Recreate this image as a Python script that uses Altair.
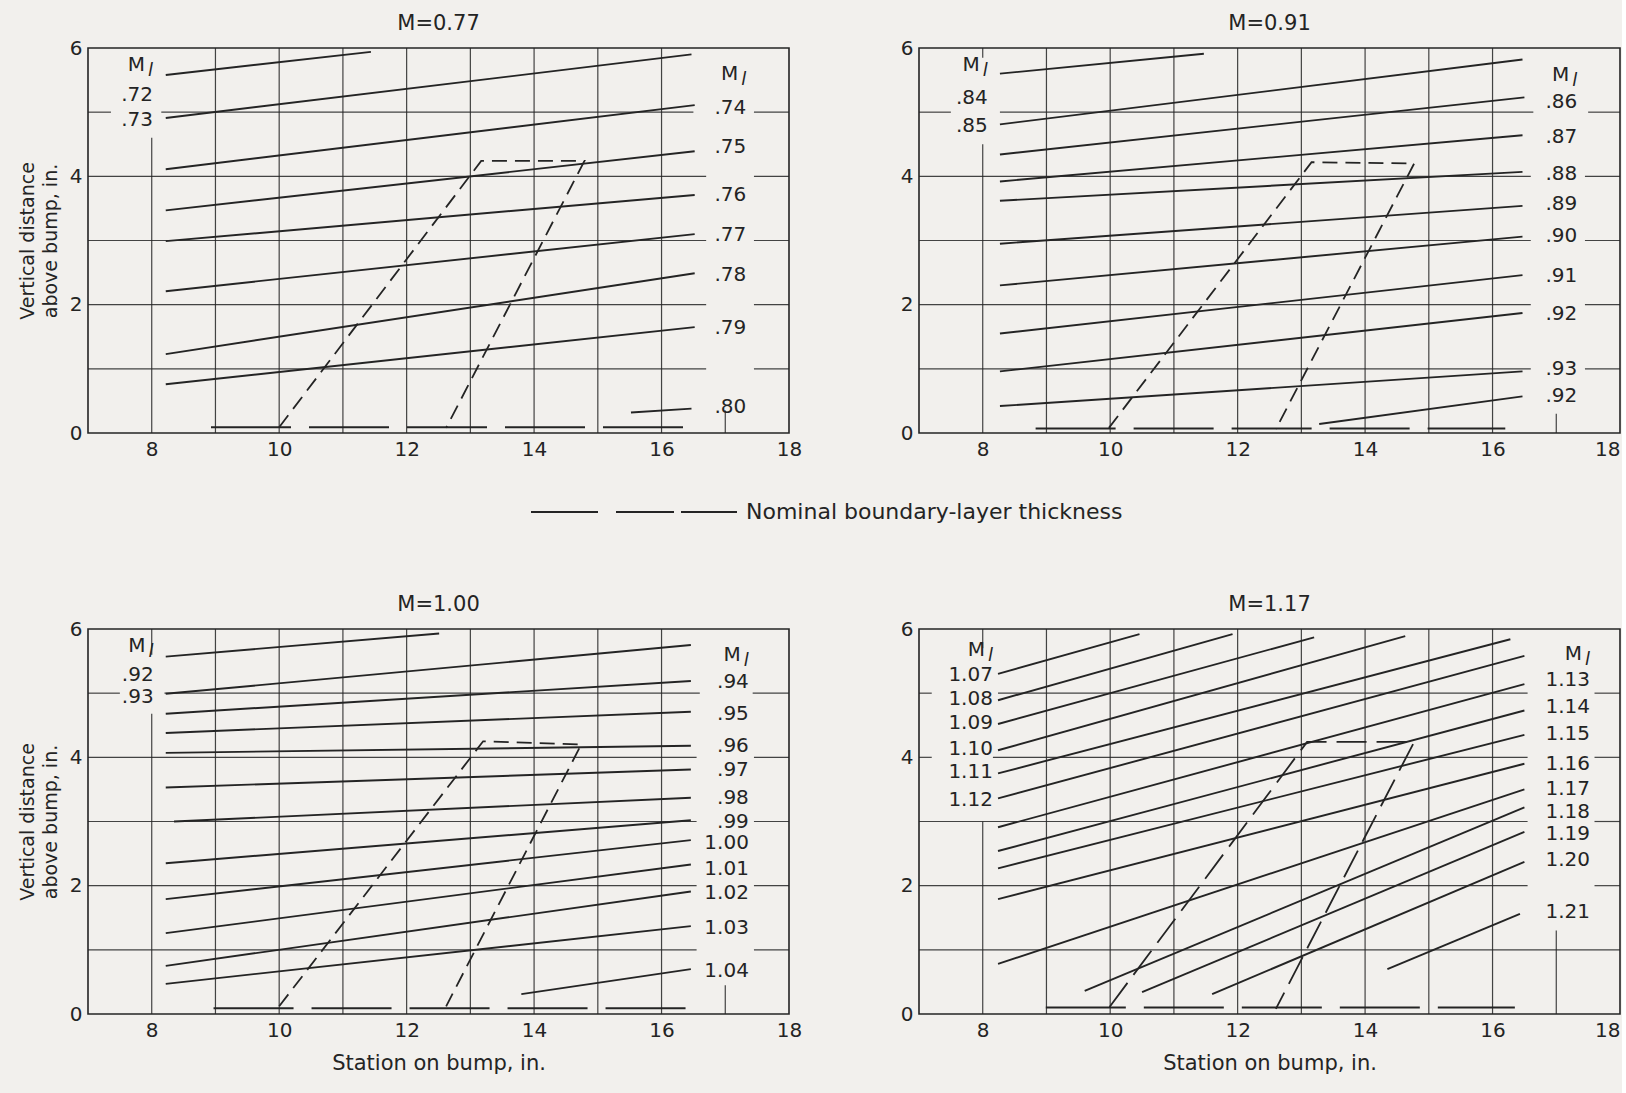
import altair as alt
import pandas as pd

FONT = "DejaVu Sans"
INK = "#242424"
PAPER = "#f2f0ed"
ML = "Ml"  # local Mach number header (M with subscript l)

TITLES = ["M=0.77", "M=0.91", "M=1.00", "M=1.17"]
XTICKS = [8, 10, 12, 14, 16, 18]
YTICKS = [0, 2, 4, 6]
X_TITLE = "Station on bump, in."
Y_TITLE = ["Vertical distance", "above bump, in."]
LEGEND_TEXT = "Nominal boundary-layer thickness"

# ---- local-Mach-number lines: start x, start y, end x, end y ----
P1_X0 = [8.22, 8.22, 8.22, 8.22, 8.22, 8.22, 8.22, 8.22, 15.52]
P1_Y0 = [5.58, 4.91, 4.11, 3.47, 2.99, 2.21, 1.23, 0.76, 0.32]
P1_X1 = [11.44, 16.47, 16.52, 16.52, 16.52, 16.52, 16.52, 16.52, 16.47]
P1_Y1 = [5.94, 5.90, 5.11, 4.39, 3.71, 3.10, 2.49, 1.65, 0.38]

P2_X0 = [8.27, 8.27, 8.27, 8.27, 8.27, 8.27, 8.27, 8.27, 8.27, 8.27, 13.28]
P2_Y0 = [5.60, 4.81, 4.34, 3.92, 3.62, 2.95, 2.30, 1.55, 0.96, 0.42, 0.14]
P2_X1 = [11.47, 16.47, 16.50, 16.47, 16.47, 16.47, 16.47, 16.47, 16.47, 16.47, 16.47]
P2_Y1 = [5.91, 5.82, 5.23, 4.64, 4.07, 3.54, 3.06, 2.46, 1.87, 0.96, 0.57]

P3_X0 = [8.22, 8.22, 8.22, 8.22, 8.22, 8.22, 8.35, 8.22, 8.22, 8.22, 8.22, 8.22, 13.80]
P3_Y0 = [5.57, 4.99, 4.68, 4.38, 4.07, 3.53, 3.00, 2.35, 1.79, 1.26, 0.75, 0.47, 0.31]
P3_X1 = [12.51, 16.46, 16.46, 16.46, 16.46, 16.46, 16.46, 16.46, 16.46, 16.46, 16.46, 16.46, 16.46]
P3_Y1 = [5.93, 5.75, 5.19, 4.71, 4.18, 3.81, 3.37, 3.02, 2.71, 2.33, 1.91, 1.37, 0.70]

P4_X0 = [8.24, 8.24, 8.24, 8.24, 8.24, 8.24, 8.24, 8.24, 8.24, 8.24, 8.24, 9.60, 10.50, 11.60, 14.35]
P4_Y0 = [5.30, 4.89, 4.52, 4.11, 3.75, 3.36, 2.91, 2.54, 2.27, 1.79, 0.78, 0.36, 0.34, 0.31, 0.70]
P4_X1 = [10.46, 11.92, 13.20, 14.63, 16.28, 16.50, 16.50, 16.50, 16.50, 16.50, 16.50, 16.50, 16.50, 16.50, 16.43]
P4_Y1 = [5.92, 5.92, 5.87, 5.89, 5.84, 5.58, 5.14, 4.73, 4.35, 3.90, 3.50, 3.22, 2.84, 2.37, 1.56]

# ---- line labels ----
P1_LEFT = [ML, ".72", ".73"]
P1_LEFT_Y = [5.73, 5.26, 4.88]
P1_RIGHT = [ML, ".74", ".75", ".76", ".77", ".78", ".79", ".80"]
P1_RIGHT_Y = [5.60, 5.06, 4.45, 3.71, 3.08, 2.46, 1.63, 0.41]

P2_LEFT = [ML, ".84", ".85"]
P2_LEFT_Y = [5.74, 5.22, 4.78]
P2_RIGHT = [ML, ".86", ".87", ".88", ".89", ".90", ".91", ".92", ".93", ".92"]
P2_RIGHT_Y = [5.58, 5.16, 4.62, 4.04, 3.57, 3.07, 2.45, 1.85, 0.99, 0.57]

P3_LEFT = [ML, ".92", ".93"]
P3_LEFT_Y = [5.74, 5.29, 4.94]
P3_RIGHT = [ML, ".94", ".95", ".96", ".97", ".98", ".99", "1.00", "1.01", "1.02", "1.03", "1.04"]
P3_RIGHT_Y = [5.60, 5.18, 4.68, 4.17, 3.81, 3.36, 3.00, 2.66, 2.26, 1.88, 1.34, 0.67]

P4_LEFT = [ML, "1.07", "1.08", "1.09", "1.10", "1.11", "1.12"]
P4_LEFT_Y = [5.67, 5.28, 4.91, 4.53, 4.13, 3.77, 3.33]
P4_RIGHT = [ML, "1.13", "1.14", "1.15", "1.16", "1.17", "1.18", "1.19", "1.20", "1.21"]
P4_RIGHT_Y = [5.61, 5.20, 4.78, 4.36, 3.89, 3.50, 3.15, 2.81, 2.40, 1.59]

LEFT_LABEL_X = [8.02, 8.08, 8.03, 8.16]
RIGHT_LABEL_X = [17.33, 17.33, 17.37, 17.53]

# ---- survey region (dashed parallelogram) ----
Q_X = [[10.0, 13.17, 14.79, 12.62], [9.98, 13.16, 14.77, 12.60],
       [10.0, 13.20, 14.74, 12.62], [9.99, 13.09, 14.77, 12.60]]
Q_Y = [[0.09, 4.24, 4.24, 0.08], [0.08, 4.22, 4.20, 0.06],
       [0.12, 4.25, 4.20, 0.12], [0.11, 4.24, 4.24, 0.08]]

# ---- nominal boundary-layer thickness ----
BL_X0 = [8.93, 8.83, 8.97, 8.99]
BL_X1 = [16.50, 16.20, 16.50, 16.35]
BL_Y = [0.09, 0.07, 0.09, 0.10]

# ---- grid (interrupted where the labels sit) ----
VGRID_FULL = [9, 10, 11, 12, 13, 14, 15, 16]
V8_TOP = [4.60, 4.50, 4.68, 3.00]
V8_STUB = [6.0, 5.85, 5.60, 5.70]
V17_TOP = [0.35, 0.30, 0.45, 1.30]
H_SEGS = [
    [(1, 7, 16.7), (1, 17.45, 18), (2, 7, 16.7), (2, 17.45, 18), (3, 7, 16.7), (3, 17.45, 18),
     (4, 7, 16.7), (4, 17.45, 18), (5, 7, 7.36), (5, 8.15, 16.5), (5, 17.45, 18)],
    [(1, 7, 16.6), (1, 17.45, 18), (2, 7, 16.6), (2, 17.45, 18), (3, 7, 16.6), (3, 17.45, 18),
     (4, 7, 16.6), (4, 17.45, 18), (5, 7, 7.5), (5, 8.27, 16.64), (5, 17.5, 18)],
    [(1, 7, 16.55), (1, 17.45, 18), (2, 7, 16.55), (2, 17.45, 18), (3, 7, 16.55), (3, 17.45, 18),
     (4, 7, 16.55), (4, 17.45, 18), (5, 7, 7.5), (5, 8.2, 16.6), (5, 17.43, 18)],
    [(1, 7, 18), (2, 7, 16.55), (2, 17.6, 18), (3, 7, 16.55), (3, 17.6, 18),
     (4, 7, 7.2), (4, 8.16, 16.55), (4, 17.6, 18), (5, 7, 7.2), (5, 8.24, 16.55), (5, 17.6, 18)],
]

LINES = [(P1_X0, P1_Y0, P1_X1, P1_Y1), (P2_X0, P2_Y0, P2_X1, P2_Y1),
         (P3_X0, P3_Y0, P3_X1, P3_Y1), (P4_X0, P4_Y0, P4_X1, P4_Y1)]
LEFTS = [(P1_LEFT, P1_LEFT_Y), (P2_LEFT, P2_LEFT_Y), (P3_LEFT, P3_LEFT_Y), (P4_LEFT, P4_LEFT_Y)]
RIGHTS = [(P1_RIGHT, P1_RIGHT_Y), (P2_RIGHT, P2_RIGHT_Y), (P3_RIGHT, P3_RIGHT_Y), (P4_RIGHT, P4_RIGHT_Y)]

PW, PH = 701, 385


def panel(i, show_xtitle, show_ytitle, flush, extra=None):
    xs = alt.Scale(domain=[7, 18], nice=False, zero=False)
    ys = alt.Scale(domain=[0, 6], nice=False, zero=False)
    xa = alt.Axis(values=XTICKS, title=X_TITLE if show_xtitle else None, grid=False,
                  domain=False, ticks=False, labelFlush=flush, labelFontSize=20,
                  labelPadding=6, labelColor=INK, labelFont=FONT, titleFont=FONT,
                  titleFontSize=21, titleFontWeight="normal", titleColor=INK, titlePadding=12)
    ya = alt.Axis(values=YTICKS, title=Y_TITLE if show_ytitle else None, grid=False,
                  domain=False, ticks=False, labelFontSize=20, labelPadding=6,
                  labelColor=INK, labelFont=FONT, titleFont=FONT, titleFontSize=19,
                  titleFontWeight="normal", titleColor=INK, titlePadding=9,
                  titleLineHeight=23)

    def X(f):
        return alt.X(f, scale=xs, axis=xa)

    def Y(f):
        return alt.Y(f, scale=ys, axis=ya)

    x0, y0, x1, y1 = LINES[i]
    mach = pd.DataFrame({"x0": x0, "y0": y0, "x1": x1, "y1": y1})

    vrows = [(v, 0, 6) for v in VGRID_FULL]
    vrows += [(8, 0, V8_TOP[i]), (8, V8_STUB[i], 6), (17, 0, V17_TOP[i])]
    vgrid = pd.DataFrame(vrows, columns=["x", "y0", "y1"])
    hgrid = pd.DataFrame(H_SEGS[i], columns=["y", "x0", "x1"])

    lt, ly = LEFTS[i]
    rt, ry = RIGHTS[i]
    lab = pd.concat([
        pd.DataFrame({"t": lt, "y": ly, "x": [LEFT_LABEL_X[i]] * len(lt)}),
        pd.DataFrame({"t": rt, "y": ry, "x": [RIGHT_LABEL_X[i]] * len(rt)}),
    ], ignore_index=True)
    nums = lab[lab["t"] != ML]
    heads = lab[lab["t"] == ML]

    quad = pd.DataFrame({"x": Q_X[i], "y": Q_Y[i], "o": [0, 1, 2, 3]})
    bl = pd.DataFrame({"x0": [BL_X0[i]], "x1": [BL_X1[i]], "y": [BL_Y[i]]})

    g_h = alt.Chart(hgrid).mark_rule(color=INK, strokeWidth=1.2, opacity=0.85).encode(
        x=X("x0:Q"), x2="x1:Q", y=Y("y:Q"))
    g_v = alt.Chart(vgrid).mark_rule(color=INK, strokeWidth=1.2, opacity=0.85).encode(
        x=X("x:Q"), y=Y("y0:Q"), y2="y1:Q")
    bl_l = alt.Chart(bl).mark_rule(color=INK, strokeWidth=2, strokeDash=[80, 18]).encode(
        x=X("x0:Q"), x2="x1:Q", y=Y("y:Q"))
    dash = [30, 10] if i == 3 else [15, 8]
    q_l = alt.Chart(quad).mark_line(color=INK, strokeWidth=1.8, strokeDash=dash).encode(
        x=X("x:Q"), y=Y("y:Q"), order="o:Q")
    m_l = alt.Chart(mach).mark_rule(color=INK, strokeWidth=1.9).encode(
        x=X("x0:Q"), y=Y("y0:Q"), x2="x1:Q", y2="y1:Q")
    t_num = alt.Chart(nums).mark_text(font=FONT, fontSize=20, align="right",
                                      baseline="middle", color=INK).encode(
        x=X("x:Q"), y=Y("y:Q"), text="t:N")
    t_m = alt.Chart(heads).mark_text(font=FONT, fontSize=20, align="right", dx=-8,
                                     baseline="middle", color=INK, text="M").encode(
        x=X("x:Q"), y=Y("y:Q"))
    t_l = alt.Chart(heads).mark_text(font=FONT, fontSize=18, align="right", dy=6,
                                     baseline="middle", color=INK, text="l",
                                     fontStyle="italic").encode(
        x=X("x:Q"), y=Y("y:Q"))

    layers = [g_h, g_v, bl_l, q_l, m_l, t_num, t_m, t_l] + (extra or [])
    return alt.layer(*layers).properties(
        width=PW, height=PH,
        title=alt.TitleParams(TITLES[i], font=FONT, fontSize=21, fontWeight="normal",
                              color=INK, offset=4, anchor="middle"),
        view=alt.ViewBackground(stroke=INK, strokeWidth=1.6, strokeOpacity=1),
    )


# legend key (drawn below the first panel, between the two rows)
leg_df = pd.DataFrame({"t": [LEGEND_TEXT]})
leg_rule = alt.Chart(leg_df).mark_rule(color=INK, strokeWidth=2,
                                       strokeDash=[67, 18, 58, 7, 56, 400]).encode(
    x=alt.value(443), x2=alt.value(649), y=alt.value(464))
leg_text = alt.Chart(leg_df).mark_text(font=FONT, fontSize=22, align="left",
                                       baseline="middle", color=INK).encode(
    x=alt.value(658), y=alt.value(464), text="t:N")

p1 = panel(0, False, True, False, [leg_rule, leg_text])
p2 = panel(1, False, False, True)
p3 = panel(2, True, True, False)
p4 = panel(3, True, False, True)

chart = alt.concat(p1, p2, p3, p4, columns=2, spacing={"row": 196, "column": 130},
                   bounds="flush").properties(
    padding={"left": 17, "top": 12, "right": 0, "bottom": 30}
).configure(background=PAPER, font=FONT).configure_view(strokeOpacity=0)

chart.save("out.html", embed_options={"renderer": "svg", "actions": False})
